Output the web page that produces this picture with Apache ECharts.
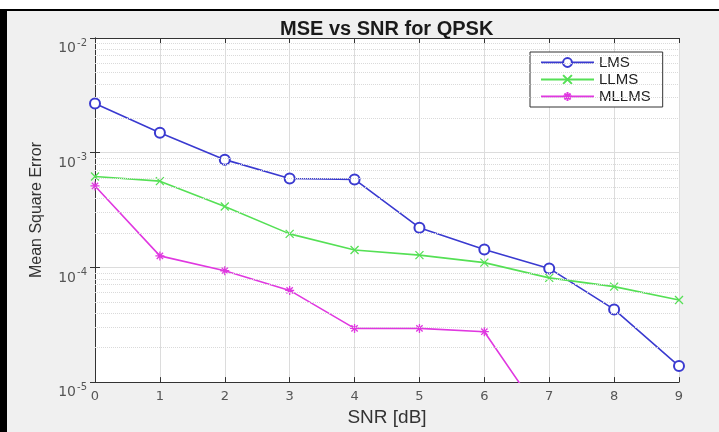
<!DOCTYPE html>
<html>
<head>
<meta charset="utf-8">
<script src="https://cdn.jsdelivr.net/npm/echarts@6/dist/echarts.min.js"></script>
<style>
  html, body { margin: 0; padding: 0; background: #f0f0f0; }
  #chart { width: 719px; height: 432px; }
</style>
</head>
<body>
<div id="chart"></div>
<script>
// SNR steps (dB)
const snr = [0, 1, 2, 3, 4, 5, 6, 7, 8, 9];
// Mean square error per equaliser
const lms   = [2.68e-3, 1.49e-3, 8.7e-4, 5.96e-4, 5.85e-4, 2.22e-4, 1.43e-4, 9.8e-5, 4.3e-5, 1.38e-5];
const llms  = [6.2e-4, 5.65e-4, 3.4e-4, 1.96e-4, 1.42e-4, 1.28e-4, 1.10e-4, 8.1e-5, 6.8e-5, 5.19e-5];
const mllms = [5.13e-4, 1.26e-4, 9.35e-5, 6.3e-5, 2.94e-5, 2.94e-5, 2.75e-5, 4.1e-6, null, null];
const seriesNames = ['LMS', 'LLMS', 'MLLMS'];
const seriesColors = ['#3a3ad0', '#55e055', '#e038e0'];

// Log-axis range (decade exponents) and minor gridline exponents log10(k x 10^n), k = 2..9
const yMinExp = -5, yMaxExp = -2;
const minorGridExp = [];
for (let e = yMinExp; e < yMaxExp; e++) {
  for (let k = 2; k <= 9; k++) minorGridExp.push(e + Math.log10(k));
}

function pairs(values) {
  const out = [];
  values.forEach((v, i) => { if (v !== null) out.push([snr[i], v]); });
  return out;
}

const FONT = 'Liberation Sans, Arial, sans-serif';
const TICK_FONT = 'DejaVu Sans, sans-serif';
const xMarker = 'path://M0,0L10,10M10,0L0,10';
const starMarker = 'path://M5,0L5,10M0,5L10,5M1.5,1.5L8.5,8.5M8.5,1.5L1.5,8.5';

const chart = echarts.init(document.getElementById('chart'), null, { renderer: 'canvas' });

const tickAxisCommon = {
  axisLine: { show: true, lineStyle: { color: '#333', width: 1 } },
  axisTick: { show: true, inside: true, length: 5, lineStyle: { color: '#333' } }
};

const option = {
  backgroundColor: '#f0f0f0',
  animation: false,
  title: {
    text: 'MSE vs SNR for QPSK',
    left: 275,
    top: 14,
    textStyle: { fontFamily: FONT, fontSize: 20, fontWeight: 'bold', color: '#1a1a1a' }
  },
  graphic: [
    { type: 'rect', shape: { x: 0, y: 0, width: 719, height: 9 }, style: { fill: '#ffffff' }, silent: true },
    { type: 'rect', shape: { x: 0, y: 9, width: 719, height: 2 }, style: { fill: '#000000' }, silent: true },
    { type: 'rect', shape: { x: 0, y: 9, width: 7, height: 423 }, style: { fill: '#000000' }, silent: true }
  ],
  grid: {
    left: 95, right: 40, top: 38, bottom: 43,
    show: true, backgroundColor: '#ffffff', borderWidth: 0
  },
  legend: {
    data: seriesNames,
    orient: 'vertical',
    left: 530,
    top: 52,
    itemWidth: 53,
    itemHeight: 11,
    itemGap: 2,
    padding: [3, 12, 3, 10],
    backgroundColor: '#ffffff',
    borderColor: '#333',
    borderWidth: 1,
    borderRadius: 0,
    textStyle: { fontFamily: FONT, fontSize: 15, color: '#222' }
  },
  xAxis: [
    Object.assign({
      type: 'value', min: 0, max: 9, interval: 1, position: 'bottom',
      name: 'SNR [dB]', nameLocation: 'middle', nameGap: 23,
      nameTextStyle: { fontFamily: FONT, fontSize: 19, color: '#333' },
      axisLabel: { fontFamily: TICK_FONT, fontSize: 13, color: '#555', margin: 8 },
      splitLine: { show: true, lineStyle: { color: '#dcdcdc', width: 1 } }
    }, tickAxisCommon),
    Object.assign({
      type: 'value', min: 0, max: 9, interval: 1, position: 'top',
      axisLabel: { show: false }, splitLine: { show: false }
    }, tickAxisCommon)
  ],
  yAxis: [
    Object.assign({
      type: 'log', logBase: 10, min: Math.pow(10, yMinExp), max: Math.pow(10, yMaxExp),
      interval: 1, position: 'left',
      name: 'Mean Square Error', nameLocation: 'middle', nameGap: 50,
      nameTextStyle: { fontFamily: FONT, fontSize: 16, color: '#333' },
      axisLabel: {
        margin: 8,
        padding: [10, 0, 0, 0],
        formatter: function (v) {
          const e = Math.round(Math.log10(v));
          return '{b|10}{sup|' + e + '}';
        },
        rich: {
          b: { fontFamily: TICK_FONT, fontSize: 14, color: '#555', lineHeight: 14, padding: [11, 0, 0, 0] },
          sup: { fontFamily: TICK_FONT, fontSize: 10, color: '#555', lineHeight: 10, padding: [0, 0, 0, 1] }
        }
      },
      splitLine: { show: true, lineStyle: { color: '#dcdcdc', width: 1 } }
    }, tickAxisCommon),
    Object.assign({
      type: 'log', logBase: 10, min: Math.pow(10, yMinExp), max: Math.pow(10, yMaxExp),
      interval: 1, position: 'right',
      axisLabel: { show: false }, splitLine: { show: false }
    }, tickAxisCommon),
    // hidden linear axis in decade units, carries the minor log gridlines
    {
      type: 'value', min: yMinExp, max: yMaxExp, show: false,
      axisLine: { show: false }, axisTick: { show: false }, axisLabel: { show: false }, splitLine: { show: false }
    }
  ],
  series: [
    {
      name: 'minor-grid', type: 'line', yAxisIndex: 2, data: [], silent: true, z: 1,
      markLine: {
        silent: true, symbol: ['none', 'none'], animation: false,
        label: { show: false },
        emphasis: { disabled: true },
        lineStyle: { type: 'dotted', color: '#dadada', width: 1 },
        data: minorGridExp.map(v => ({ yAxis: v }))
      }
    },
    {
      name: 'LMS', type: 'line', data: pairs(lms), clip: true, z: 3,
      symbol: 'emptyCircle', symbolSize: 10,
      lineStyle: { color: seriesColors[0], width: 1.6 },
      itemStyle: { color: seriesColors[0], borderColor: seriesColors[0], borderWidth: 1.3 }
    },
    {
      name: 'LLMS', type: 'line', data: pairs(llms), clip: true, z: 3,
      symbol: xMarker, symbolSize: 8,
      lineStyle: { color: seriesColors[1], width: 1.6 },
      itemStyle: { color: seriesColors[1], borderColor: seriesColors[1], borderWidth: 1.3 }
    },
    {
      name: 'MLLMS', type: 'line', data: pairs(mllms), clip: true, z: 3,
      symbol: starMarker, symbolSize: 9,
      lineStyle: { color: seriesColors[2], width: 1.6 },
      itemStyle: { color: seriesColors[2], borderColor: seriesColors[2], borderWidth: 1.3 }
    }
  ]
};

chart.setOption(option);
</script>
</body>
</html>
